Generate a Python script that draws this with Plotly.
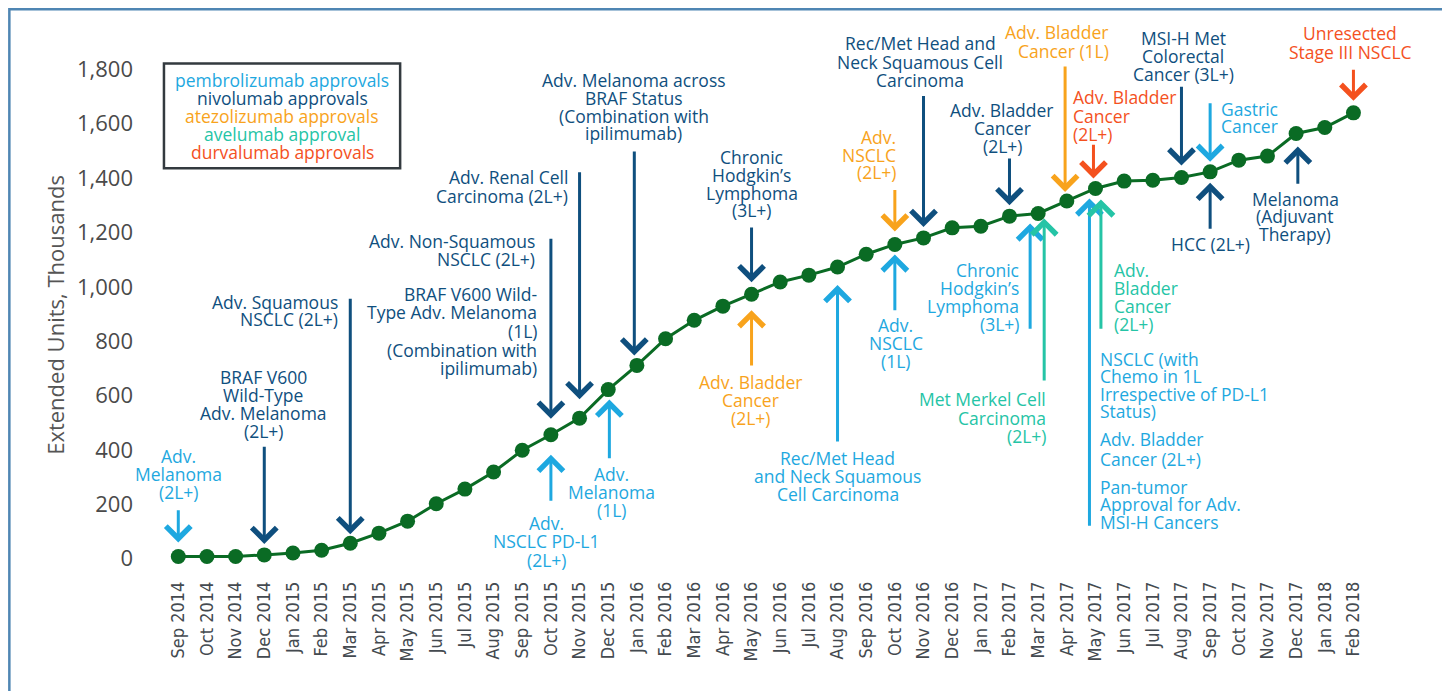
import plotly.graph_objects as go

# ---------------- data ----------------
months = ["Sep 2014", "Oct 2014", "Nov 2014", "Dec 2014", "Jan 2015", "Feb 2015",
          "Mar 2015", "Apr 2015", "May 2015", "Jun 2015", "Jul 2015", "Aug 2015",
          "Sep 2015", "Oct 2015", "Nov 2015", "Dec 2015", "Jan 2016", "Feb 2016",
          "Mar 2016", "Apr 2016", "May 2016", "Jun 2016", "Jul 2016", "Aug 2016",
          "Sep 2016", "Oct 2016", "Nov 2016", "Dec 2016", "Jan 2017", "Feb 2017",
          "Mar 2017", "Apr 2017", "May 2017", "Jun 2017", "Jul 2017", "Aug 2017",
          "Sep 2017", "Oct 2017", "Nov 2017", "Dec 2017", "Jan 2018", "Feb 2018"]

extended_units = [8, 8, 8, 14, 21, 31, 57, 94, 138, 202, 256, 319,
                  399, 456, 517, 622, 711, 809, 877, 929, 973, 1018, 1043, 1073,
                  1120, 1156, 1180, 1217, 1223, 1260, 1270, 1316, 1362, 1389, 1392, 1402,
                  1423, 1466, 1481, 1564, 1586, 1640]

y_ticks = [0, 200, 400, 600, 800, 1000, 1200, 1400, 1600, 1800]

legend_drugs = ["pembro", "nivo", "atezo", "avelu", "durva"]
legend_texts = ["pembrolizumab approvals", "nivolumab approvals", "atezolizumab approvals",
                "avelumab approval", "durvalumab approvals"]

# approval arrows: month + drug
arrow_months = ["Sep 2014", "Dec 2014", "Mar 2015", "Oct 2015", "Nov 2015", "Jan 2016",
                "Oct 2015", "Dec 2015", "May 2016", "May 2016", "Aug 2016", "Oct 2016",
                "Oct 2016", "Nov 2016", "Feb 2017", "Mar 2017", "Mar 2017", "Apr 2017",
                "May 2017", "May 2017", "May 2017", "Aug 2017", "Sep 2017", "Sep 2017",
                "Dec 2017", "Feb 2018"]
arrow_drugs = ["pembro", "nivo", "nivo", "nivo", "nivo", "nivo",
               "pembro", "pembro", "nivo", "atezo", "pembro", "atezo",
               "pembro", "nivo", "nivo", "pembro", "avelu", "atezo",
               "durva", "pembro", "avelu", "nivo", "pembro", "nivo",
               "nivo", "durva"]

# approval label texts (one list of lines per label) and their month / drug
label_months = ["Sep 2014", "Dec 2014", "Mar 2015", "Oct 2015", "Oct 2015", "Nov 2015",
                "Jan 2016", "Oct 2015", "Dec 2015", "May 2016", "May 2016", "Aug 2016",
                "Oct 2016", "Oct 2016", "Nov 2016", "Feb 2017", "Mar 2017", "Mar 2017",
                "Apr 2017", "May 2017", "May 2017", "May 2017", "May 2017", "May 2017",
                "Aug 2017", "Sep 2017", "Sep 2017", "Dec 2017", "Feb 2018"]
label_drugs = ["pembro", "nivo", "nivo", "nivo", "nivo", "nivo",
               "nivo", "pembro", "pembro", "nivo", "atezo", "pembro",
               "atezo", "pembro", "nivo", "nivo", "pembro", "avelu",
               "atezo", "durva", "pembro", "pembro", "pembro", "avelu",
               "nivo", "pembro", "nivo", "nivo", "durva"]
label_texts = [
    ["Adv.", "Melanoma", "(2L+)"],
    ["BRAF V600", "Wild-Type", "Adv. Melanoma", "(2L+)"],
    ["Adv. Squamous", "NSCLC (2L+)"],
    ["Adv. Non-Squamous", "NSCLC (2L+)"],
    ["BRAF V600 Wild-", "Type Adv. Melanoma", "(1L)", "(Combination with", "ipilimumab)"],
    ["Adv. Renal Cell", "Carcinoma (2L+)"],
    ["Adv. Melanoma across", "BRAF Status", "(Combination with", "ipilimumab)"],
    ["Adv.", "NSCLC PD-L1", "(2L+)"],
    ["Adv.", "Melanoma", "(1L)"],
    ["Chronic", "Hodgkin\u2019s", "Lymphoma", "(3L+)"],
    ["Adv. Bladder", "Cancer", "(2L+)"],
    ["Rec/Met Head", "and Neck Squamous", "Cell Carcinoma"],
    ["Adv.", "NSCLC", "(2L+)"],
    ["Adv.", "NSCLC", "(1L)"],
    ["Rec/Met Head and", "Neck Squamous Cell", "Carcinoma"],
    ["Adv. Bladder", "Cancer", "(2L+)"],
    ["Chronic", "Hodgkin\u2019s", "Lymphoma", "(3L+)"],
    ["Met Merkel Cell", "Carcinoma", "(2L+)"],
    ["Adv. Bladder", "Cancer (1L)"],
    ["Adv. Bladder", "Cancer", "(2L+)"],
    ["NSCLC (with", "Chemo in 1L", "Irrespective of PD-L1", "Status)"],
    ["Adv. Bladder", "Cancer (2L+)"],
    ["Pan-tumor", "Approval for Adv.", "MSI-H Cancers"],
    ["Adv.", "Bladder", "Cancer", "(2L+)"],
    ["MSI-H Met", "Colorectal", "Cancer (3L+)"],
    ["Gastric", "Cancer"],
    ["HCC (2L+)"],
    ["Melanoma", "(Adjuvant", "Therapy)"],
    ["Unresected", "Stage III NSCLC"],
]

# ---------------- styles / layout ----------------
COLORS = {"pembro": "#1ea8e0", "nivo": "#0f4f7e", "atezo": "#f8a31c",
          "avelu": "#25c4a6", "durva": "#f4511e"}
GREEN = "#0a6b24"
TEXT_FONT = "Open Sans"
TEXT_SIZE = 17.5

# arrow layout: (tail value, x offset in months, standoff px)
arrow_layout = [(184, 0, 14), (417, 0, 11), (962, 0, 9), (1182, 0, 16), (1427, 0, 19),
                (1503, -0.09, 10), (208, 0, 20), (364, 0.04, 10), (1224, 0, 12),
                (705, 0, 16), (426, 0, 18), (1362, 0, 13), (908, 0, 10), (1708, 0, 11),
                (1478, 0, 11), (840, -0.28, 10), (650, 0.21, 5), (1816, -0.06, 9),
                (1528, -0.07, 10), (116, -0.21, 10), (840, 0.19, 11), (1742, 0, 12),
                (1681, 0, 10), (1208, 0, 11), (1374, 0.06, 13), (1804, 0, 12)]

# label layout: (xshift px, first-line y value, anchor, line spacing px)
label_layout = [(0, 377, "center", 17.8), (-1, 668, "center", 17.8), (-10, 944, "right", 16.6),
                (-14, 1169, "right", 18.3), (-12, 975, "right", 18.7), (-10, 1405, "right", 19),
                (-3, 1761, "center", 17.8), (-4, 131, "center", 18.3), (3, 313, "center", 18.3),
                (0, 1478, "center", 17.8), (-1, 650, "center", 17.8), (0, 370, "center", 17.8),
                (3.5, 1552, "right", 17.8), (1, 859, "center", 18), (-3.5, 1896, "center", 18.3),
                (-7, 1650, "center", 18), (-17, 1061, "right", 17.8), (10, 586, "right", 18.3),
                (44, 1936, "right", 18.4), (-24.7, 1697, "left", 18.3), (3, 736, "left", 17.6),
                (3, 442, "left", 20.7), (3, 264, "left", 17.5), (16.3, 1061, "left", 17.8),
                (2, 1914, "center", 17.8), (9, 1656, "left", 17.4), (0.5, 1156, "center", 18),
                (-1, 1325, "center", 17.5), (-3.4, 1932, "center", 19)]

X_RANGE = [-1.336, 44.02]
Y_RANGE = [-60, 2000]

fig = go.Figure()
fig.add_trace(go.Scatter(
    x=months, y=extended_units, mode="lines+markers",
    line=dict(color=GREEN, width=3),
    marker=dict(color=GREEN, size=15),
    showlegend=False, hoverinfo="skip"))

annotations = []
idx = {m: i for i, m in enumerate(months)}

# arrows
for m, d, (tail, dx, so) in zip(arrow_months, arrow_drugs, arrow_layout):
    xi = idx[m] + dx
    annotations.append(dict(
        x=xi, y=extended_units[idx[m]], xref="x", yref="y",
        ax=xi, ay=tail, axref="x", ayref="y",
        text="", showarrow=True, arrowhead=4, arrowsize=1.6, arrowwidth=3,
        arrowcolor=COLORS[d], standoff=so))

# labels
for m, d, lines, (xs, y0, anc, sp) in zip(label_months, label_drugs, label_texts, label_layout):
    for k, line in enumerate(lines):
        annotations.append(dict(
            x=idx[m], y=y0, xref="x", yref="y", xshift=xs, yshift=-k * sp,
            text=line, showarrow=False, xanchor=anc, yanchor="middle", align=anc,
            font=dict(family=TEXT_FONT, size=TEXT_SIZE, color=COLORS[d])))

# legend box text
for k, (d, t) in enumerate(zip(legend_drugs, legend_texts)):
    annotations.append(dict(
        x=3.62, y=1761, xref="x", yref="y", yshift=-k * 17.9,
        text=t, showarrow=False, xanchor="center", yanchor="middle",
        font=dict(family=TEXT_FONT, size=TEXT_SIZE, color=COLORS[d])))

# y axis title
annotations.append(dict(
    x=-0.0654, y=897, xref="paper", yref="y", text="Extended Units, Thousands",
    textangle=-90, showarrow=False, xanchor="center", yanchor="middle",
    font=dict(family=TEXT_FONT, size=22, color="#555555")))

shapes = [
    dict(type="rect", xref="x", yref="y", x0=-0.5, x1=7.74, y0=1436, y1=1822,
         line=dict(color="#333a3f", width=2.5), fillcolor="rgba(0,0,0,0)"),
    dict(type="rect", xref="paper", yref="paper", x0=-0.1005, x1=1.0046, y0=-0.26, y1=1.0101,
         line=dict(color="#4f86b3", width=2.5), fillcolor="rgba(0,0,0,0)"),
]

fig.update_layout(
    width=1442, height=683,
    margin=dict(l=132, r=10, t=7, b=116),
    paper_bgcolor="white", plot_bgcolor="white",
    annotations=annotations, shapes=shapes,
    xaxis=dict(type="category", range=X_RANGE, tickmode="array", tickvals=months,
               ticktext=months, tickangle=-90, showgrid=False, zeroline=False,
               showline=False, ticks="", ticklabelstandoff=2,
               tickfont=dict(family="Liberation Sans Narrow, DejaVu Sans Condensed, Arial Narrow, sans-serif",
                             size=18, color="#444a50")),
    yaxis=dict(range=Y_RANGE, tickmode="array", tickvals=y_ticks, tickformat=",",
               showgrid=False, zeroline=False, showline=False, ticks="",
               ticklabelstandoff=6,
               tickfont=dict(family=TEXT_FONT, size=22, color="#4a4a4a")),
    hovermode=False,
)

fig.write_html("out.html")
